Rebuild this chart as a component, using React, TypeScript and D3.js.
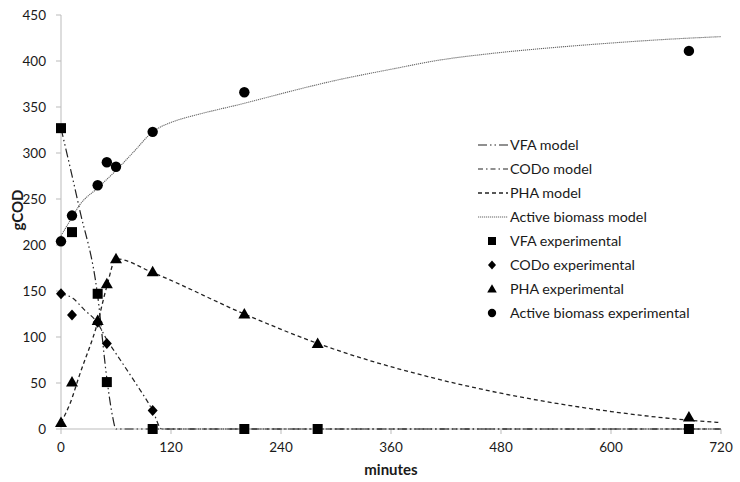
import React from "react";
import * as d3 from "d3";

const xTicks = [0, 120, 240, 360, 480, 600, 720];
const yTicks = [0, 50, 100, 150, 200, 250, 300, 350, 400, 450];

const vfaExpT = [0, 12, 40, 50, 100, 200, 280, 685];
const vfaExpV = [327, 214, 147, 51, 0, 0, 0, 0];
const codExpT = [0, 12, 40, 50, 100];
const codExpV = [147, 124, 116, 93, 20];
const phaExpT = [0, 12, 40, 50, 60, 100, 200, 280, 685];
const phaExpV = [7, 51, 118, 158, 185, 171, 125, 93, 13];
const bioExpT = [0, 12, 40, 50, 60, 100, 200, 685];
const bioExpV = [204, 232, 265, 290, 285, 323, 366, 411];

const vfaModT = [0, 20, 40, 50, 56, 60, 720];
const vfaModV = [327, 240, 145, 55, 15, 0, 0];
const codModT = [0, 13, 25, 40, 50, 60, 80, 100, 110, 720];
const codModV = [147, 142, 130, 115, 97, 82, 52, 20, 0, 0];
const phaModT = [0, 10, 20, 40, 50, 60, 100, 200, 280, 400, 500, 600, 680, 720];
const phaModV = [7, 28, 58, 116, 155, 185, 170, 125, 93, 57, 35, 19, 10, 7];
const bioModT = [0, 12, 20, 40, 60, 80, 100, 110, 125, 150, 200, 250, 300, 360, 413, 468, 530, 593, 660, 720];
const bioModV = [210, 230, 243, 262, 281, 302, 323, 329, 335, 342, 354, 367, 379, 391, 401, 408, 414, 419, 423.5, 426.5];

const legendLabels = [
  "VFA model",
  "CODo model",
  "PHA model",
  "Active biomass model",
  "VFA experimental",
  "CODo experimental",
  "PHA experimental",
  "Active biomass experimental",
];

const FONT = "Lato, 'Open Sans', sans-serif";

function Marker({ kind, x, y }: { kind: string; x: number; y: number }) {
  if (kind === "square") return <rect x={x - 5} y={y - 5} width={10} height={10} fill="#000" />;
  if (kind === "circle") return <circle cx={x} cy={y} r={5.2} fill="#000" />;
  if (kind === "triangle")
    return <path d={`M${x},${y - 6} L${x + 6},${y + 4.5} L${x - 6},${y + 4.5} Z`} fill="#000" />;
  return <path d={`M${x},${y - 5.5} L${x + 5},${y} L${x},${y + 5.5} L${x - 5},${y} Z`} fill="#000" />;
}

export default function App() {
  const W = 740, H = 482;
  const x = d3.scaleLinear().domain([0, 720]).range([61, 721]);
  const y = d3.scaleLinear().domain([0, 450]).range([429, 15]);
  const line = d3
    .line<[number, number]>()
    .x((d) => x(d[0]))
    .y((d) => y(d[1]))
    .curve(d3.curveMonotoneX);
  const zip = (t: number[], v: number[]) => t.map((tt, i) => [tt, v[i]] as [number, number]);

  const models = [
    { t: vfaModT, v: vfaModV, dash: "9,3,1.5,3,1.5,3", stroke: "#222", w: 1.2 },
    { t: codModT, v: codModV, dash: "5,3,1.5,3", stroke: "#222", w: 1.2 },
    { t: phaModT, v: phaModV, dash: "4,3", stroke: "#222", w: 1.3 },
    { t: bioModT, v: bioModV, dash: "1.2,0.8", stroke: "#666", w: 1.1 },
  ];
  const exps = [
    { t: vfaExpT, v: vfaExpV, kind: "square" },
    { t: codExpT, v: codExpV, kind: "diamond" },
    { t: phaExpT, v: phaExpV, kind: "triangle" },
    { t: bioExpT, v: bioExpV, kind: "circle" },
  ];
  const legY = (i: number) => 145 + i * 24;
  const TXT = "#1a1a1a";

  return (
    <svg width={W} height={H} style={{ position: "absolute", left: 0, top: 0, background: "#fff" }} fontFamily={FONT}>
      {/* axes */}
      <line x1={x(0)} x2={x(0)} y1={y(450)} y2={y(0)} stroke="#bbb" strokeWidth={1} />
      <line x1={x(0)} x2={x(720)} y1={y(0)} y2={y(0)} stroke="#bbb" strokeWidth={1} />
      {yTicks.map((t) => (
        <g key={"y" + t}>
          <line x1={x(0) - 5} x2={x(0)} y1={y(t)} y2={y(t)} stroke="#bbb" />
          <text x={46} y={y(t)} dy="0.35em" textAnchor="end" fontSize={13.5} fill={TXT}>
            {t}
          </text>
        </g>
      ))}
      {xTicks.map((t) => (
        <g key={"x" + t}>
          <line x1={x(t)} x2={x(t)} y1={y(0)} y2={y(0) + 5} stroke="#bbb" />
          <text x={x(t)} y={452} textAnchor="middle" fontSize={13.5} fill={TXT}>
            {t}
          </text>
        </g>
      ))}
      <text x={391} y={475} textAnchor="middle" fontSize={15} fontWeight="bold" fill={TXT}>
        minutes
      </text>
      <text
        transform={`translate(23,210) rotate(-90)`}
        textAnchor="middle"
        fontSize={15}
        fontWeight="bold"
        fill={TXT}
      >
        gCOD
      </text>

      {/* models */}
      {models.map((m, i) => (
        <path
          key={"m" + i}
          d={line(zip(m.t, m.v)) || ""}
          fill="none"
          stroke={m.stroke}
          strokeWidth={m.w}
          strokeDasharray={m.dash}
        />
      ))}
      {/* experimental */}
      {exps.map((e, i) => (
        <g key={"e" + i}>
          {e.t.map((tt, j) => (
            <Marker key={j} kind={e.kind} x={x(tt)} y={y(e.v[j])} />
          ))}
        </g>
      ))}

      {/* legend */}
      {legendLabels.map((lab, i) => (
        <g key={"l" + i}>
          {i < 4 ? (
            <line
              x1={478}
              x2={508}
              y1={legY(i)}
              y2={legY(i)}
              stroke={models[i].stroke}
              strokeWidth={models[i].w}
              strokeDasharray={models[i].dash}
            />
          ) : (
            <g transform={`translate(${492},${legY(i)}) scale(0.8) translate(${-492},${-legY(i)})`}>
              <Marker kind={exps[i - 4].kind} x={492} y={legY(i)} />
            </g>
          )}
          <text x={510} y={legY(i)} dy="0.35em" fontSize={14.3} fill={TXT}>
            {lab}
          </text>
        </g>
      ))}
    </svg>
  );
}
